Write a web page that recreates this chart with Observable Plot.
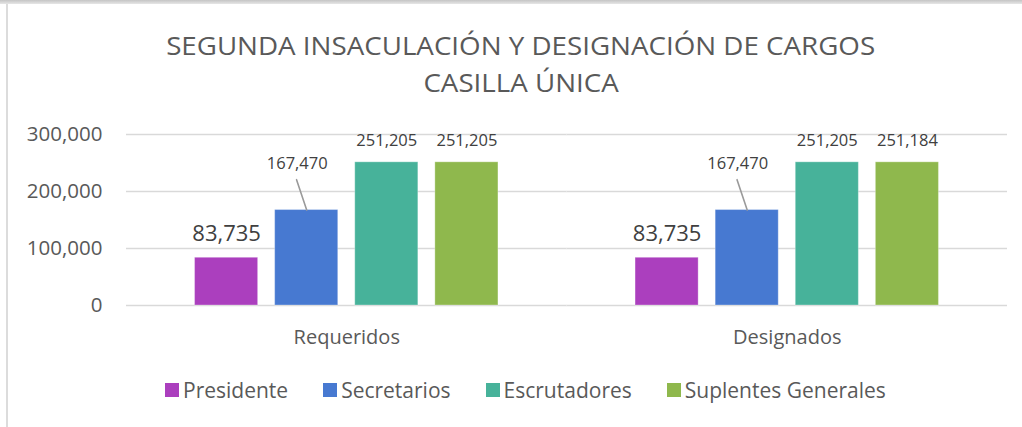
<!DOCTYPE html>
<html>
<head>
<meta charset="utf-8">
<script src="https://cdn.jsdelivr.net/npm/d3@7"></script>
<script src="https://cdn.jsdelivr.net/npm/@observablehq/plot@0.6"></script>
<style>
  html, body { margin: 0; padding: 0; background: #fff; }
  #root { position: relative; width: 1022px; height: 427px; overflow: hidden; font-family: "Open Sans", sans-serif; }
  #topband { position: absolute; left: 0; top: 0; width: 1022px; height: 4px; background: linear-gradient(#c4c4c4, #e6e6e6); }
  #leftline { position: absolute; left: 6px; top: 4px; width: 2px; height: 423px; background: #dcdcdc; }
  #title { position: absolute; left: 0; top: 27px; width: 1042px; text-align: center; color: #595959; font-size: 25px; line-height: 37px; white-space: nowrap; }
  #title span { display: inline-block; transform-origin: 50% 50%; }
  #chart { position: absolute; left: 0; top: 110px; }
  #legend { position: absolute; left: 165px; top: 376px; display: flex; align-items: center; gap: 35px; color: #595959; font-size: 21px; line-height: 28px; white-space: nowrap; }
  .item { display: flex; align-items: center; }
  .sw { width: 14px; height: 14px; margin-right: 4px; }
</style>
</head>
<body>
<div id="root">
  <div id="topband"></div>
  <div id="leftline"></div>
  <div id="title"></div>
  <div id="chart"></div>
  <div id="legend"></div>
</div>
<script>
const titleLines = ["SEGUNDA INSACULACIÓN Y DESIGNACIÓN DE CARGOS", "CASILLA ÚNICA"];
const categories = ["Requeridos", "Designados"];
const series = ["Presidente", "Secretarios", "Escrutadores", "Suplentes Generales"];
const requeridos = [83735, 167470, 251205, 251205];
const designados = [83735, 167470, 251205, 251184];
const colors = ["#AB3FBE", "#4779D1", "#47B29A", "#8FB84D"];
const yTicks = [0, 100000, 200000, 300000];

const values = [requeridos, designados];
const data = categories.flatMap((c, i) => series.map((s, j) => ({group: c, series: s, value: values[i][j]})));
const fmt = d3.format(",");

// Title
const title = document.getElementById("title");
titleLines.forEach((t, i) => {
  const s = document.createElement("span");
  s.textContent = t;
  title.appendChild(s);
  if (i < titleLines.length - 1) title.appendChild(document.createElement("br"));
});
const spans = title.querySelectorAll("span");
const w0 = spans[0].getBoundingClientRect().width;
const k = 709 / w0;
spans.forEach(s => s.style.transform = `scaleX(${k})`);

const normal = data.filter(d => d.series === "Escrutadores" || d.series === "Suplentes Generales");
const pres = data.filter(d => d.series === "Presidente");
const secr = data.filter(d => d.series === "Secretarios");

const plot = Plot.plot({
  width: 1022,
  height: 250,
  marginTop: 24,
  marginBottom: 55,
  marginLeft: 126,
  marginRight: 15,
  style: {fontFamily: "Open Sans, sans-serif", background: "transparent", overflow: "visible"},
  fx: {domain: categories, padding: 0, label: null, round: false},
  x: {domain: series, paddingInner: 0.2125, paddingOuter: 0.856, axis: null, round: false},
  y: {domain: [0, 300000], label: null},
  color: {domain: series, range: colors},
  marks: [
    Plot.gridY(yTicks, {stroke: "#d9d9d9", strokeOpacity: 1, strokeWidth: 1.5}),
    Plot.axisY(yTicks, {tickSize: 0, tickPadding: 24, tickFormat: fmt, fontSize: 20.5, fill: "#595959", label: null}),
    Plot.axisFx({anchor: "bottom", tickSize: 0, tickPadding: 24, fontSize: 20, fill: "#595959", label: null}),
    Plot.barY(data, {fx: "group", x: "series", y: "value", fill: "series", stroke: "white", strokeOpacity: 0.3, strokeWidth: 1}),
    Plot.text(normal, {fx: "group", x: "series", y: "value", text: d => fmt(d.value), dy: -22, fontSize: 16.5, fill: "#404040"}),
    Plot.text(pres, {fx: "group", x: "series", y: "value", text: d => fmt(d.value), dy: -24, fontSize: 22, fill: "#404040"}),
    Plot.text(secr, {fx: "group", x: "series", y: "value", text: d => fmt(d.value), dx: -9.5, dy: -46.5, fontSize: 16.5, fill: "#404040"}),
    Plot.vector(secr, {fx: "group", x: "series", y: "value", anchor: "start", length: 32, rotate: -18.5,
      stroke: "#9a9a9a", strokeWidth: 1.6,
      shape: {draw(context, l) { context.moveTo(0, 0); context.lineTo(0, -l); }}})
  ]
});
document.getElementById("chart").appendChild(plot);

// Legend
const legend = d3.select("#legend");
series.forEach((s, i) => {
  const it = legend.append("div").attr("class", "item");
  it.append("div").attr("class", "sw").style("background", colors[i]);
  it.append("span").text(s);
});
</script>
</body>
</html>
